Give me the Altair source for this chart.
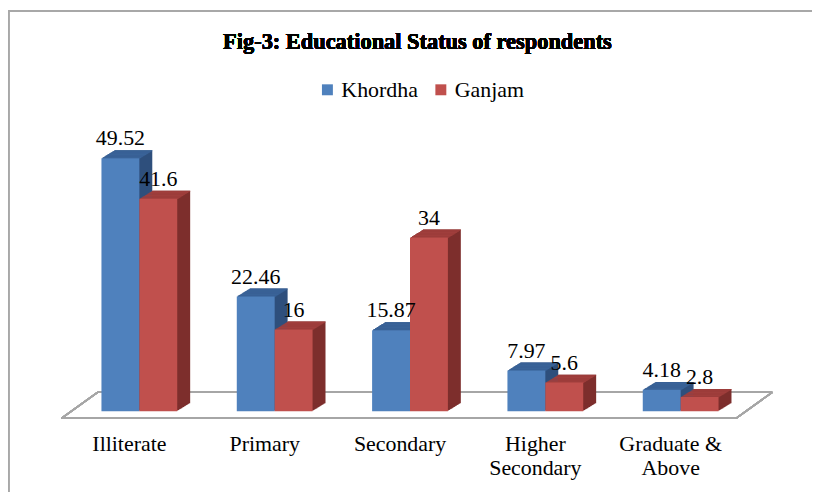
import altair as alt
import pandas as pd

# ---- data ----
categories = ["Illiterate", "Primary", "Secondary", "Higher Secondary", "Graduate & Above"]
series = ["Khordha", "Ganjam"]
khordha = [49.52, 22.46, 15.87, 7.97, 4.18]
ganjam = [41.6, 16, 34, 5.6, 2.8]

front_colors = ["#4F81BD", "#C0504D"]
side_colors = ["#2E4F7C", "#7D2E2C"]
top_colors = ["#3A6399", "#A13F3C"]

rows = []
for c, k, g in zip(categories, khordha, ganjam):
    rows.append({"category": c, "district": "Khordha", "value": k, "label": f"{k:g}"})
    rows.append({"category": c, "district": "Ganjam", "value": g, "label": f"{g:g}"})
df = pd.DataFrame(rows)

FONT = "Liberation Serif"
FS = 22
W, H = 680, 308
DX, DY, N = 13, 8, 13

label_expr = (
    "datum.value == 'Higher Secondary' ? ['Higher', 'Secondary'] : "
    "datum.value == 'Graduate & Above' ? ['Graduate &', 'Above'] : datum.value"
)

main_axis = alt.Axis(
    title=None, domain=False, ticks=False, labelAngle=0,
    labelFont=FONT, labelFontSize=FS, labelColor="#000000",
    labelPadding=22, labelOffset=-10, labelLineHeight=25,
    labelExpr=label_expr, labelLimit=300,
)


def x_enc(shift=0, axis=None):
    return alt.X(
        "category:N",
        sort=categories,
        scale=alt.Scale(paddingInner=0.44, paddingOuter=0.22, range=[shift, W + shift]),
        axis=axis,
    )


xo_enc = alt.XOffset("district:N", sort=series, scale=alt.Scale(paddingInner=0, paddingOuter=0))
xo_text = alt.XOffset("district:N", sort=series, scale=alt.Scale(type="point", padding=0.5))
y_enc = alt.Y("value:Q", scale=alt.Scale(domain=[0, 60]), axis=None)

base = alt.Chart(df)


def cond(colors):
    return alt.condition("datum.district == 'Khordha'", alt.value(colors[0]), alt.value(colors[1]))


layers = []

# floor plate outline and frame (decorations)
floor_color = "#A6A6A6"
for (x1, y1, x2, y2) in [(-10, 315, 668, 315), (26, 289, 704, 289), (-10, 315, 26, 289), (668, 315, 704, 289)]:
    layers.append(base.mark_rule(color=floor_color, strokeWidth=1.5).encode(
        x=alt.value(x1), x2=alt.value(x2), y=alt.value(y1), y2=alt.value(y2)))
layers.append(base.mark_rule(color="#A8A8A8", strokeWidth=1.5).encode(
    x=alt.value(-64), x2=alt.value(744), y=alt.value(-94.5), y2=alt.value(-94.5)))
layers.append(base.mark_rule(color="#A8A8A8", strokeWidth=1.5).encode(
    x=alt.value(-63.5), x2=alt.value(-63.5), y=alt.value(-95), y2=alt.value(390)))

# 3D side faces
for k in range(1, N + 1):
    o = -DY * k / N
    layers.append(
        base.mark_bar(yOffset=o, y2Offset=o).encode(
            x=x_enc(k * DX / N), xOffset=xo_enc, y=y_enc, color=cond(side_colors)
        )
    )
# 3D top faces
for k in range(1, N + 1):
    layers.append(
        base.mark_bar(yOffset=-DY * k / N, y2Offset=-DY * (k - 1) / N + 0.3).encode(
            x=x_enc(k * DX / N), xOffset=xo_enc, y=y_enc, y2="value:Q", color=cond(top_colors)
        )
    )

# front faces
front = base.mark_bar().encode(
    x=x_enc(0, main_axis),
    xOffset=xo_enc,
    y=y_enc,
    color=alt.Color(
        "district:N",
        sort=series,
        scale=alt.Scale(domain=series, range=front_colors),
        legend=alt.Legend(
            title=None, orient="none", direction="horizontal",
            legendX=246, legendY=-26,
            symbolType="square", symbolSize=121, symbolStrokeWidth=0,
            labelFont=FONT, labelFontSize=FS, labelColor="#000000",
            labelOffset=3, columnPadding=12,
        ),
    ),
)
layers.append(front)

texts = base.mark_text(font=FONT, fontSize=FS, color="#000000", baseline="alphabetic", dy=-13).encode(
    x=x_enc(0), xOffset=xo_text, y=y_enc, text="label:N"
)
layers.append(texts)

title = base.mark_text(font=FONT, fontSize=22.5, fontWeight="bold", color="#000000",
                       baseline="alphabetic", align="center").encode(
    x=alt.value(347.5), y=alt.value(-56), text=alt.value("Fig-3: Educational Status of respondents")
)
layers.append(title)

chart = alt.layer(*layers).resolve_scale(x="independent", xOffset="independent").properties(
    width=W, height=H,
    autosize=alt.AutoSizeParams(type="none"),
    padding={"left": 64, "top": 96, "right": 64, "bottom": 80},
).configure(
    background="#FFFFFF", font=FONT
).configure_view(stroke=None).configure_legend(
    labelFont=FONT, labelFontSize=FS, labelColor="#000000"
).configure_text(font=FONT)

chart.save("out.html", embed_options={"renderer": "svg", "actions": False})
